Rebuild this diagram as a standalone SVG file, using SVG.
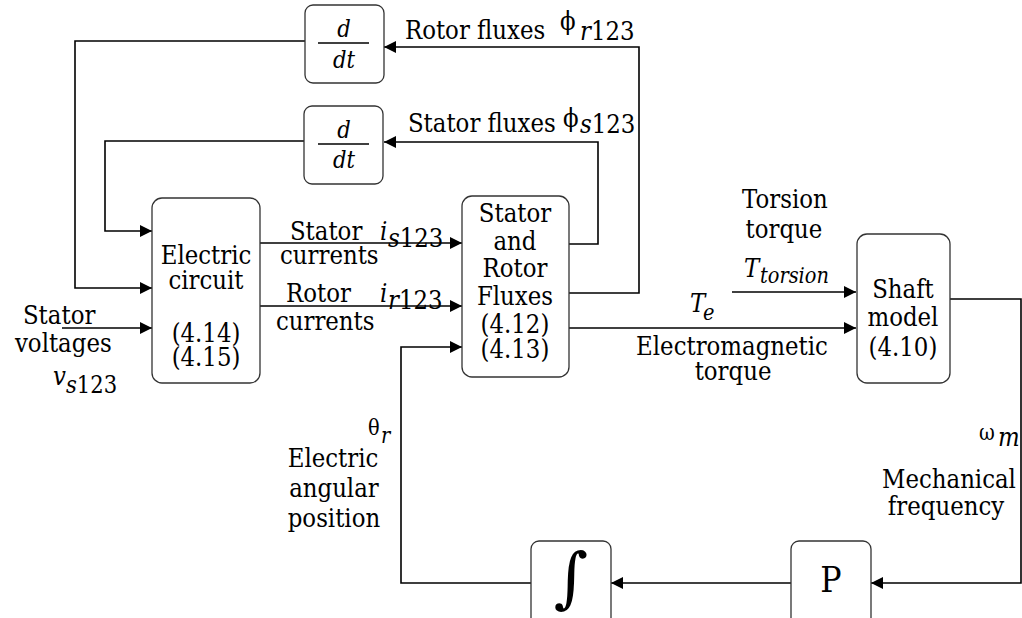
<svg xmlns="http://www.w3.org/2000/svg" width="1022" height="618" viewBox="0 0 1022 618">
<defs>
<marker id="ah" markerUnits="userSpaceOnUse" markerWidth="13" markerHeight="13" refX="12" refY="6" orient="auto">
<path d="M0,0 L12,6 L0,12 z" fill="#000"/>
</marker>
<style>
.box{fill:#fff;stroke:#333;stroke-width:1.3}
.ln{fill:none;stroke:#000;stroke-width:1.6}
.ar{fill:none;stroke:#000;stroke-width:1.6;marker-end:url(#ah)}
.tx text{font-family:"DejaVu Serif",serif;font-size:26px;fill:#000}
.c{text-anchor:middle}
.i{font-style:italic}
.g{font-size:20px}
.s{font-size:20px}
</style>
</defs>
<rect width="1022" height="618" fill="#fff"/>
<g id="connectors">
<polyline class="ar" points="569,293 639,293 639,47 384,47"/>
<polyline class="ar" points="569,244 598,244 598,142 384,142"/>
<polyline class="ar" points="305,41 75,41 75,288 152,288"/>
<polyline class="ar" points="304,141 105,141 105,231 152,231"/>
<polyline class="ar" points="62,328 152,328"/>
<polyline class="ar" points="260,243 462,243"/>
<polyline class="ar" points="260,306 462,306"/>
<polyline class="ar" points="531,583 401,583 401,347 462,347"/>
<polyline class="ar" points="569,328 856,328"/>
<polyline class="ar" points="732,292 856,292"/>
<polyline class="ar" points="950,299 1021,299 1021,583 871,583"/>
<polyline class="ar" points="791,583 611,583"/>
</g>
<g id="ddt-rotor">
<rect class="box" x="305" y="5" width="79" height="78" rx="8"/>
<line class="ln" x1="318" y1="43" x2="369" y2="43"/>
</g>
<g id="ddt-stator">
<rect class="box" x="304" y="106" width="79" height="78" rx="8"/>
<line class="ln" x1="318" y1="144" x2="369" y2="144"/>
</g>
<g id="electric-circuit">
<rect class="box" x="152" y="198" width="108" height="185" rx="10"/>
</g>
<g id="fluxes">
<rect class="box" x="462" y="196" width="107" height="181" rx="10"/>
</g>
<g id="shaft">
<rect class="box" x="857" y="234" width="93" height="149" rx="10"/>
</g>
<g id="integrator">
<rect class="box" x="531" y="541" width="80" height="100" rx="8"/>
<text x="571" y="600" text-anchor="middle" font-family="DejaVu Serif, serif" font-size="66">∫</text>
</g>
<g id="pole-pairs">
<rect class="box" x="791" y="541" width="80" height="100" rx="8"/>
</g>
<g id="texts" class="tx" transform="scale(0.88 1)">
<text class="c i" x="390.9" y="37" style="font-size:24px">d</text>
<text class="c i" x="390.9" y="68" style="font-size:24px">dt</text>
<text class="c i" x="390.9" y="138" style="font-size:24px">d</text>
<text class="c i" x="390.9" y="168" style="font-size:24px">dt</text>
<text class="c" x="234.1" y="264">Electric</text>
<text class="c" x="234.1" y="289">circuit</text>
<text class="c" x="234.1" y="342">(4.14)</text>
<text class="c" x="234.1" y="366">(4.15)</text>
<text class="c" x="585.2" y="222">Stator</text>
<text class="c" x="585.2" y="250">and</text>
<text class="c" x="585.2" y="277">Rotor</text>
<text class="c" x="585.2" y="305">Fluxes</text>
<text class="c" x="585.2" y="333">(4.12)</text>
<text class="c" x="585.2" y="358">(4.13)</text>
<text class="c" x="1026.1" y="298">Shaft</text>
<text class="c" x="1026.1" y="326">model</text>
<text class="c" x="1026.1" y="356">(4.10)</text>
<text class="c" x="944.3" y="592" style="font-size:36px">P</text>
<text x="460.2" y="39">Rotor fluxes</text>
<text x="636.4" y="30" class="g">ϕ</text>
<text x="659.1" y="40" class="s"><tspan class="i">r</tspan>123</text>
<text x="463.6" y="132">Stator fluxes</text>
<text x="639.8" y="127" class="g">ϕ</text>
<text x="659.1" y="133" class="s"><tspan class="i">s</tspan>123</text>
<text x="329.5" y="240">Stator</text>
<text x="431.8" y="240" class="i">i</text>
<text x="440.9" y="247"><tspan class="i">s</tspan>123</text>
<text x="318.2" y="264">currents</text>
<text x="325" y="302">Rotor</text>
<text x="431.8" y="302" class="i">i</text>
<text x="440.9" y="309"><tspan class="i">r</tspan>123</text>
<text x="313.6" y="330">currents</text>
<text x="26.1" y="324">Stator</text>
<text x="17" y="352">voltages</text>
<text x="60.2" y="385" class="i">v</text>
<text x="75" y="393" style="font-size:24px"><tspan class="i">s</tspan>123</text>
<text class="c" x="892" y="208">Torsion</text>
<text class="c" x="890.9" y="238">torque</text>
<text x="845.5" y="277" class="i">T</text>
<text x="863.6" y="283" class="i" style="font-size:22px">torsion</text>
<text x="784.1" y="312" class="i">T</text>
<text x="798.9" y="320" class="i" style="font-size:22px">e</text>
<text class="c" x="831.8" y="355">Electromagnetic</text>
<text class="c" x="833" y="380">torque</text>
<text x="1112.5" y="440" style="font-size:22px">ω</text>
<text x="1134.1" y="446" class="i s">m</text>
<text class="c" x="1078.4" y="488">Mechanical</text>
<text class="c" x="1075" y="515">frequency</text>
<text x="418.2" y="435" style="font-size:22px">θ</text>
<text x="433" y="443" class="i" style="font-size:22px">r</text>
<text class="c" x="378.4" y="467">Electric</text>
<text class="c" x="379.5" y="497">angular</text>
<text class="c" x="379.5" y="527">position</text>
</g>
</svg>
